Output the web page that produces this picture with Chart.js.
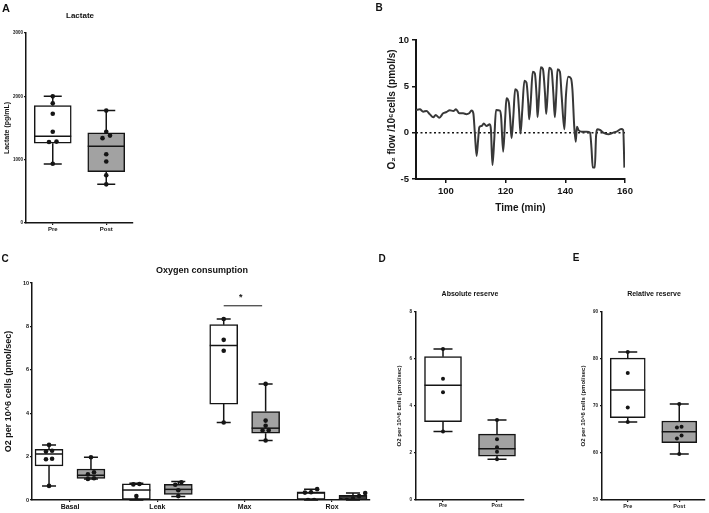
<!DOCTYPE html>
<html>
<head>
<meta charset="utf-8">
<script src="https://cdn.jsdelivr.net/npm/chart.js@4.4.1/dist/chart.umd.min.js"></script>
<style>
  body { margin: 0; background: #fff; width: 709px; height: 513px; position: relative; overflow: hidden;
         font-family: "Liberation Sans", Arial, sans-serif; }
  canvas { position: absolute; }
  .lbl { position: absolute; font-weight: bold; color: #111; white-space: nowrap;
         transform: translate(-50%, -50%); will-change: transform; -webkit-font-smoothing: antialiased; }
</style>
</head>
<body>
<div class="lbl" style="left:6px;top:8px;font-size:11px">A</div>
<div class="lbl" style="left:80px;top:15px;font-size:8px">Lactate</div>
<div class="lbl" style="left:379px;top:7px;font-size:10px">B</div>
<div class="lbl" style="left:5px;top:258px;font-size:10px">C</div>
<div class="lbl" style="left:202px;top:270px;font-size:9px">Oxygen consumption</div>
<div class="lbl" style="left:382px;top:258px;font-size:10px">D</div>
<div class="lbl" style="left:470px;top:293px;font-size:7px">Absolute reserve</div>
<div class="lbl" style="left:576px;top:257px;font-size:10px">E</div>
<div class="lbl" style="left:654px;top:293px;font-size:7px">Relative reserve</div>

<canvas id="chartA" width="150" height="245" style="left:0;top:0;width:150px;height:245px"></canvas>
<canvas id="chartB" width="280" height="190" style="left:360px;top:30px;width:280px;height:190px"></canvas>
<canvas id="chartC" width="380" height="263" style="left:0;top:250px;width:380px;height:263px"></canvas>
<canvas id="chartD" width="150" height="263" style="left:380px;top:250px;width:150px;height:263px"></canvas>
<canvas id="chartE" width="149" height="263" style="left:560px;top:250px;width:149px;height:263px"></canvas>

<script>
// ── A: lactate ──────────────────────────────────────────────
var lacGroups = ['Pre', 'Post'];
var lacMin = [930, 610];
var lacQ1  = [1260, 810];
var lacMed = [1370, 1210];
var lacQ3  = [1855, 1425];
var lacMax = [2000, 1775];
var lacPreDots  = [935, 1280, 1285, 1440, 1725, 1890, 2000];
var lacPostDots = [610, 755, 970, 1085, 1340, 1380, 1440, 1775];
var lacTicks = [0, 1000, 2000, 3000];

// ── B: O2 flow trace ────────────────────────────────────────
var bTime = [90, 91.3, 92.4, 93.5, 94.6, 95.8, 96.6, 97.8, 99.1, 100.2, 101.3, 102.5, 103.4, 104.5, 105.8,
  106.9, 107.8, 108.6, 109.2, 109.7, 110.3, 110.8, 111.2, 112.0, 112.7, 113.6, 114.7, 115.1, 115.6, 116.2,
  116.8, 118.1, 118.5, 119.2, 119.9, 120.3, 121.1, 121.5, 122.0, 122.6, 123.2, 124.0, 124.5, 125.0, 125.6,
  126.3, 127.0, 127.6, 127.9, 128.4, 129.1, 129.8, 130.4, 130.7, 131.2, 131.8, 132.5, 133.2, 133.6, 134.1,
  134.6, 135.4, 136.0, 136.5, 137.0, 137.4, 138.2, 138.8, 139.7, 140.2, 141.0, 141.9, 142.4, 143.0, 143.5,
  143.9, 144.4, 145.5, 147.2, 148.3, 148.8, 149.2, 149.9, 150.3, 150.8, 151.6, 152.7, 154.4, 156.1, 157.2,
  158.7, 159.4, 159.8];
var bFlow = [2.45, 2.52, 2.27, 2.34, 2.0, 1.66, 1.9, 1.62, 2.09, 2.23, 2.41, 2.34, 2.52, 2.09, 2.09,
  2.0, 2.09, 2.38, 2.09, 0, -2.51, -0.8, 0.58, 0.72, 1.0, 0.72, 0.9, 0.3, -3.49, -0.8,
  2.45, 2.38, 1.73, -2.05, 1.73, 3.71, 3.24, 1.73, -0.6, 1.73, 4.68, 4.43, 2.45, -0.1, 2.45,
  5.61, 5.4, 3.17, 1.44, 3.17, 6.58, 6.4, 3.89, 1.66, 3.89, 7.05, 6.87, 4.25, 2.02, 4.25,
  7.01, 6.76, 4.25, 1.66, 4.25, 6.84, 6.58, 3.89, 0.36, 3.89, 6.04, 5.86, 4.6, 0.65, -0.97,
  0.65, 0.29, 0.11, 0.11, 0, -1.8, -3.77, -3.77, -0.4, 0.36, 0.29, 0, -0.18, 0, 0.11,
  0.4, 0.29, -3.77];
var bBaseline = 0;
var bTimeTicks = [100, 120, 140, 160];

// ── C: oxygen consumption ───────────────────────────────────
var o2Groups = ['Basal', 'Leak', 'Max', 'Rox'];
var o2PreMin  = [0.65, 0, 3.57, 0];
var o2PreQ1   = [1.57, 0, 4.42, 0];
var o2PreMed  = [2.12, 0.46, 7.12, 0.32];
var o2PreQ3   = [2.34, 0.74, 8.08, 0.38];
var o2PreMax  = [2.54, 0.77, 8.34, 0.5];
var o2PostMin = [0.97, 0.16, 2.74, 0];
var o2PostQ1  = [1.0, 0.26, 3.08, 0.03];
var o2PostMed = [1.14, 0.49, 3.31, 0.14];
var o2PostQ3  = [1.43, 0.72, 4.08, 0.22];
var o2PostMax = [1.97, 0.85, 5.35, 0.32];
var o2PreDots  = [[0.65, 1.88, 1.9, 2.23, 2.27, 2.54], [0, 0.18, 0.72, 0.74], [3.57, 6.88, 7.38, 8.34], [0, 0, 0.34, 0.36, 0.5]];
var o2PostDots = [[0.97, 1.0, 1.18, 1.28, 1.97], [0.18, 0.45, 0.7, 0.82], [2.74, 3.2, 3.22, 3.42, 3.66, 5.35], [0, 0, 0.05, 0.18, 0.32]];
var o2SigGroup = 3;       // Max
var o2SigLevel = 8.95;
var o2Ticks = [0, 2, 4, 6, 8, 10];

// ── D: absolute reserve ─────────────────────────────────────
var absMin = [2.91, 1.73];
var absQ1  = [3.33, 1.87];
var absMed = [4.88, 2.18];
var absQ3  = [6.1, 2.8];
var absMax = [6.43, 3.4];
var absPreDots  = [2.91, 4.58, 5.16, 6.43];
var absPostDots = [1.73, 2.05, 2.24, 2.58, 3.4];
var absTicks = [0, 2, 4, 6, 8];

// ── E: relative reserve ─────────────────────────────────────
var relMin = [66.6, 59.8];
var relQ1  = [67.5, 62.2];
var relMed = [73.4, 64.5];
var relQ3  = [80.2, 66.8];
var relMax = [81.5, 70.4];
var relPreDots  = [66.6, 69.7, 77.0, 81.5];
var relPostDots = [59.8, 63.1, 63.7, 65.4, 65.6, 70.4];
var relTicks = [50, 60, 70, 80, 90];

var INK = '#151515';
var GREY = '#a2a2a2';
var FONT = '"Liberation Sans", Arial, Helvetica, sans-serif';

Chart.defaults.font.family = FONT;
Chart.defaults.font.weight = 'bold';
Chart.defaults.color = INK;

// whiskers behind the boxes, medians on top of them
Chart.register({
  id: 'boxWhiskers',
  beforeDatasetsDraw: function (chart) {
    var ds = chart.data.datasets[0];
    if (!ds.stats) return;
    var xs = chart.scales.x, ys = chart.scales.y, ctx = chart.ctx;
    ctx.save();
    ctx.strokeStyle = INK;
    ctx.lineWidth = ds.borderWidth;
    ds.stats.forEach(function (b) {
      var px = xs.getPixelForValue(b.x), h = ds.capW / 2;
      var yMin = ys.getPixelForValue(b.min), yMax = ys.getPixelForValue(b.max);
      ctx.beginPath();
      ctx.moveTo(px, yMin); ctx.lineTo(px, ys.getPixelForValue(b.q1));
      ctx.moveTo(px, ys.getPixelForValue(b.q3)); ctx.lineTo(px, yMax);
      ctx.moveTo(px - h, yMin); ctx.lineTo(px + h, yMin);
      ctx.moveTo(px - h, yMax); ctx.lineTo(px + h, yMax);
      ctx.stroke();
    });
    ctx.restore();
  },
  afterDatasetDraw: function (chart, args) {
    var ds = chart.data.datasets[args.index];
    if (!ds.stats) return;
    var xs = chart.scales.x, ys = chart.scales.y, ctx = chart.ctx;
    ctx.save();
    ctx.strokeStyle = INK;
    ctx.lineWidth = ds.borderWidth;
    ds.stats.forEach(function (b) {
      var px = xs.getPixelForValue(b.x), py = ys.getPixelForValue(b.med), h = ds.barThickness / 2;
      ctx.beginPath();
      ctx.moveTo(px - h, py); ctx.lineTo(px + h, py);
      ctx.stroke();
    });
    ctx.restore();
  }
});

// spread dots that sit on (almost) the same value side by side
function spreadDots(values, xc, thr, step) {
  var sorted = values.slice().sort(function (a, b) { return a - b; });
  var out = [], group = [];
  function flush() {
    group.forEach(function (v, i) { out.push({ x: xc + (i - (group.length - 1) / 2) * step, y: v }); });
    group = [];
  }
  sorted.forEach(function (v) {
    if (group.length && v - group[group.length - 1] >= thr) flush();
    group.push(v);
  });
  flush();
  return out;
}

function makeBox(x, min, q1, med, q3, max, fill, dots) {
  return { x: x, min: min, q1: q1, med: med, q3: q3, max: max, fill: fill, dots: dots };
}

function boxChart(id, p) {
  var dotData = [];
  p.boxes.forEach(function (b) {
    dotData = dotData.concat(spreadDots(b.dots, b.x, p.dotThr, p.dotStep));
  });
  var datasets = [
    {
      type: 'bar',
      data: p.boxes.map(function (b) { return { x: b.x, y: [b.q1, b.q3] }; }),
      backgroundColor: p.boxes.map(function (b) { return b.fill; }),
      borderColor: INK,
      borderWidth: 1.5,
      borderSkipped: false,
      barThickness: p.boxW,
      stats: p.boxes,
      capW: p.capW,
      order: 2
    },
    {
      type: 'scatter',
      data: dotData,
      pointRadius: p.dotR,
      pointBackgroundColor: INK,
      pointBorderWidth: 0,
      order: 1
    }
  ].concat(p.extra || []);

  return new Chart(document.getElementById(id), {
    type: 'bar',
    data: { datasets: datasets },
    plugins: p.plugins || [],
    options: {
      responsive: false,
      animation: false,
      devicePixelRatio: 1,
      events: [],
      layout: { padding: p.pad },
      plugins: { legend: { display: false }, tooltip: { enabled: false } },
      scales: {
        x: {
          type: 'linear', min: p.xMin, max: p.xMax, offset: false,
          grid: { display: true, offset: false, drawOnChartArea: false, drawTicks: true, tickLength: 2, color: INK, lineWidth: 1.2 },
          border: { display: true, color: INK, width: 1.5 },
          ticks: {
            autoSkip: false, maxRotation: 0, padding: 1, color: INK,
            font: { size: p.xFont, weight: 'bold' },
            callback: function (v) { return p.labels[Math.round(v) - 1]; }
          },
          afterBuildTicks: function (s) { s.ticks = p.labels.map(function (l, i) { return { value: i + 1 }; }); },
          afterFit: function (s) { s.height = 12; }
        },
        y: {
          type: 'linear', min: p.yTicks[0], max: p.yTicks[p.yTicks.length - 1],
          grid: { display: true, drawOnChartArea: false, drawTicks: true, tickLength: 2, color: INK, lineWidth: 1.2 },
          border: { display: true, color: INK, width: 1.5 },
          ticks: {
            padding: p.yTickPad, color: INK, font: { size: p.yFont, weight: 'bold' },
            callback: function (v) { return String(v); }
          },
          afterBuildTicks: function (s) { s.ticks = p.yTicks.map(function (v) { return { value: v }; }); },
          title: {
            display: true, text: p.yTitle, color: INK,
            font: { size: p.yTitleFont, weight: 'bold' },
            padding: { top: p.yTitlePad, bottom: 0 }
          },
          afterFit: function (s) { s.width = p.yW; }
        }
      }
    }
  });
}

// ── A ──
boxChart('chartA', {
  boxes: [
    makeBox(1, lacMin[0], lacQ1[0], lacMed[0], lacQ3[0], lacMax[0], '#ffffff', lacPreDots),
    makeBox(2, lacMin[1], lacQ1[1], lacMed[1], lacQ3[1], lacMax[1], GREY, lacPostDots)
  ],
  labels: lacGroups, xMin: 0.5, xMax: 2.5, yTicks: lacTicks,
  pad: { left: 0, top: 33, right: 17, bottom: 10 }, yW: 26,
  boxW: 37, capW: 18, dotR: 2.3, dotThr: 51, dotStep: 0.14,
  xFont: 6, yFont: 4.5, yTickPad: 1,
  yTitle: 'Lactate (pg/mL)', yTitleFont: 7, yTitlePad: 3
});

// ── C ──
var o2Boxes = [];
o2Groups.forEach(function (g, i) {
  o2Boxes.push(makeBox(i + 1 - 0.24, o2PreMin[i], o2PreQ1[i], o2PreMed[i], o2PreQ3[i], o2PreMax[i], '#ffffff', o2PreDots[i]));
  o2Boxes.push(makeBox(i + 1 + 0.24, o2PostMin[i], o2PostQ1[i], o2PostMed[i], o2PostQ3[i], o2PostMax[i], GREY, o2PostDots[i]));
});
var sigStar = {
  id: 'sigStar',
  afterDatasetsDraw: function (chart) {
    var ctx = chart.ctx;
    var px = chart.scales.x.getPixelForValue(o2SigGroup), py = chart.scales.y.getPixelForValue(o2SigLevel);
    ctx.save();
    ctx.fillStyle = INK;
    ctx.font = 'bold 9px ' + FONT;
    ctx.textAlign = 'center';
    ctx.textBaseline = 'alphabetic';
    ctx.fillText('*', px - 4, py - 6);
    ctx.restore();
  }
};
boxChart('chartC', {
  boxes: o2Boxes,
  labels: o2Groups, xMin: 0.565, xMax: 4.435, yTicks: o2Ticks,
  pad: { left: 0, top: 33, right: 10, bottom: 1 }, yW: 32,
  boxW: 28, capW: 14, dotR: 2.3, dotThr: 0.17, dotStep: 0.07,
  xFont: 7, yFont: 5.5, yTickPad: 1,
  yTitle: 'O2 per 10^6 cells (pmol/sec)', yTitleFont: 9, yTitlePad: 3,
  extra: [{
    type: 'line',
    data: [{ x: o2SigGroup - 0.24, y: o2SigLevel }, { x: o2SigGroup + 0.2, y: o2SigLevel }],
    borderColor: INK, borderWidth: 1, pointRadius: 0, order: 0
  }],
  plugins: [sigStar]
});

// ── D ──
boxChart('chartD', {
  boxes: [
    makeBox(1, absMin[0], absQ1[0], absMed[0], absQ3[0], absMax[0], '#ffffff', absPreDots),
    makeBox(2, absMin[1], absQ1[1], absMed[1], absQ3[1], absMax[1], GREY, absPostDots)
  ],
  labels: lacGroups, xMin: 0.5, xMax: 2.5, yTicks: absTicks,
  pad: { left: 14, top: 62, right: 6, bottom: 1 }, yW: 22,
  boxW: 37, capW: 19, dotR: 2, dotThr: 0.136, dotStep: 0.09,
  xFont: 5, yFont: 4.5, yTickPad: 2,
  yTitle: 'O2 per 10^6 cells (pmol/sec)', yTitleFont: 6, yTitlePad: 2
});

// ── E ──
boxChart('chartE', {
  boxes: [
    makeBox(1, relMin[0], relQ1[0], relMed[0], relQ3[0], relMax[0], '#ffffff', relPreDots),
    makeBox(2, relMin[1], relQ1[1], relMed[1], relQ3[1], relMax[1], GREY, relPostDots)
  ],
  labels: lacGroups, xMin: 0.5, xMax: 2.5, yTicks: relTicks,
  pad: { left: 20, top: 62, right: 0, bottom: 1 }, yW: 22,
  boxW: 35, capW: 19, dotR: 2, dotThr: 0.68, dotStep: 0.09,
  xFont: 5.5, yFont: 4.5, yTickPad: 2,
  yTitle: 'O2 per 10^6 cells (pmol/sec)', yTitleFont: 6, yTitlePad: 0
});

// ── B ──
new Chart(document.getElementById('chartB'), {
  type: 'line',
  data: {
    datasets: [
      {
        data: bTime.map(function (t, i) { return { x: t, y: bFlow[i] }; }),
        borderColor: '#383838',
        borderWidth: 2,
        pointRadius: 0,
        cubicInterpolationMode: 'monotone'
      },
      {
        data: [{ x: bTime[0], y: bBaseline }, { x: bTimeTicks[bTimeTicks.length - 1], y: bBaseline }],
        borderColor: INK,
        borderWidth: 1.5,
        borderDash: [2, 2.5],
        pointRadius: 0
      }
    ]
  },
  options: {
    responsive: false,
    animation: false,
    devicePixelRatio: 1,
    events: [],
    layout: { padding: { left: 24, top: 10, right: 15, bottom: 3 } },
    plugins: { legend: { display: false }, tooltip: { enabled: false } },
    scales: {
      x: {
        type: 'linear', min: 90, max: 160,
        grid: { display: true, drawOnChartArea: false, drawTicks: true, tickLength: 4, color: INK, lineWidth: 1.5 },
        border: { display: true, color: INK, width: 2 },
        ticks: { padding: 3, color: INK, font: { size: 9.5, weight: 'bold' } },
        afterBuildTicks: function (s) { s.ticks = bTimeTicks.map(function (v) { return { value: v }; }); },
        title: { display: true, text: 'Time (min)', color: INK, font: { size: 10, weight: 'bold' }, padding: { top: 0, bottom: 3 } },
        afterFit: function (s) { s.height = 38; }
      },
      y: {
        type: 'linear', min: -5, max: 10,
        grid: { display: true, drawOnChartArea: false, drawTicks: true, tickLength: 4, color: INK, lineWidth: 1.5 },
        border: { display: true, color: INK, width: 2 },
        ticks: { stepSize: 5, padding: 3, color: INK, font: { size: 9.5, weight: 'bold' } },
        title: { display: true, text: 'O\u2082 flow /10\u2076cells (pmol/s)', color: INK, font: { size: 10, weight: 'bold' }, padding: { top: 2, bottom: 0 } },
        afterFit: function (s) { s.width = 32; }
      }
    }
  }
});
</script>
</body>
</html>
